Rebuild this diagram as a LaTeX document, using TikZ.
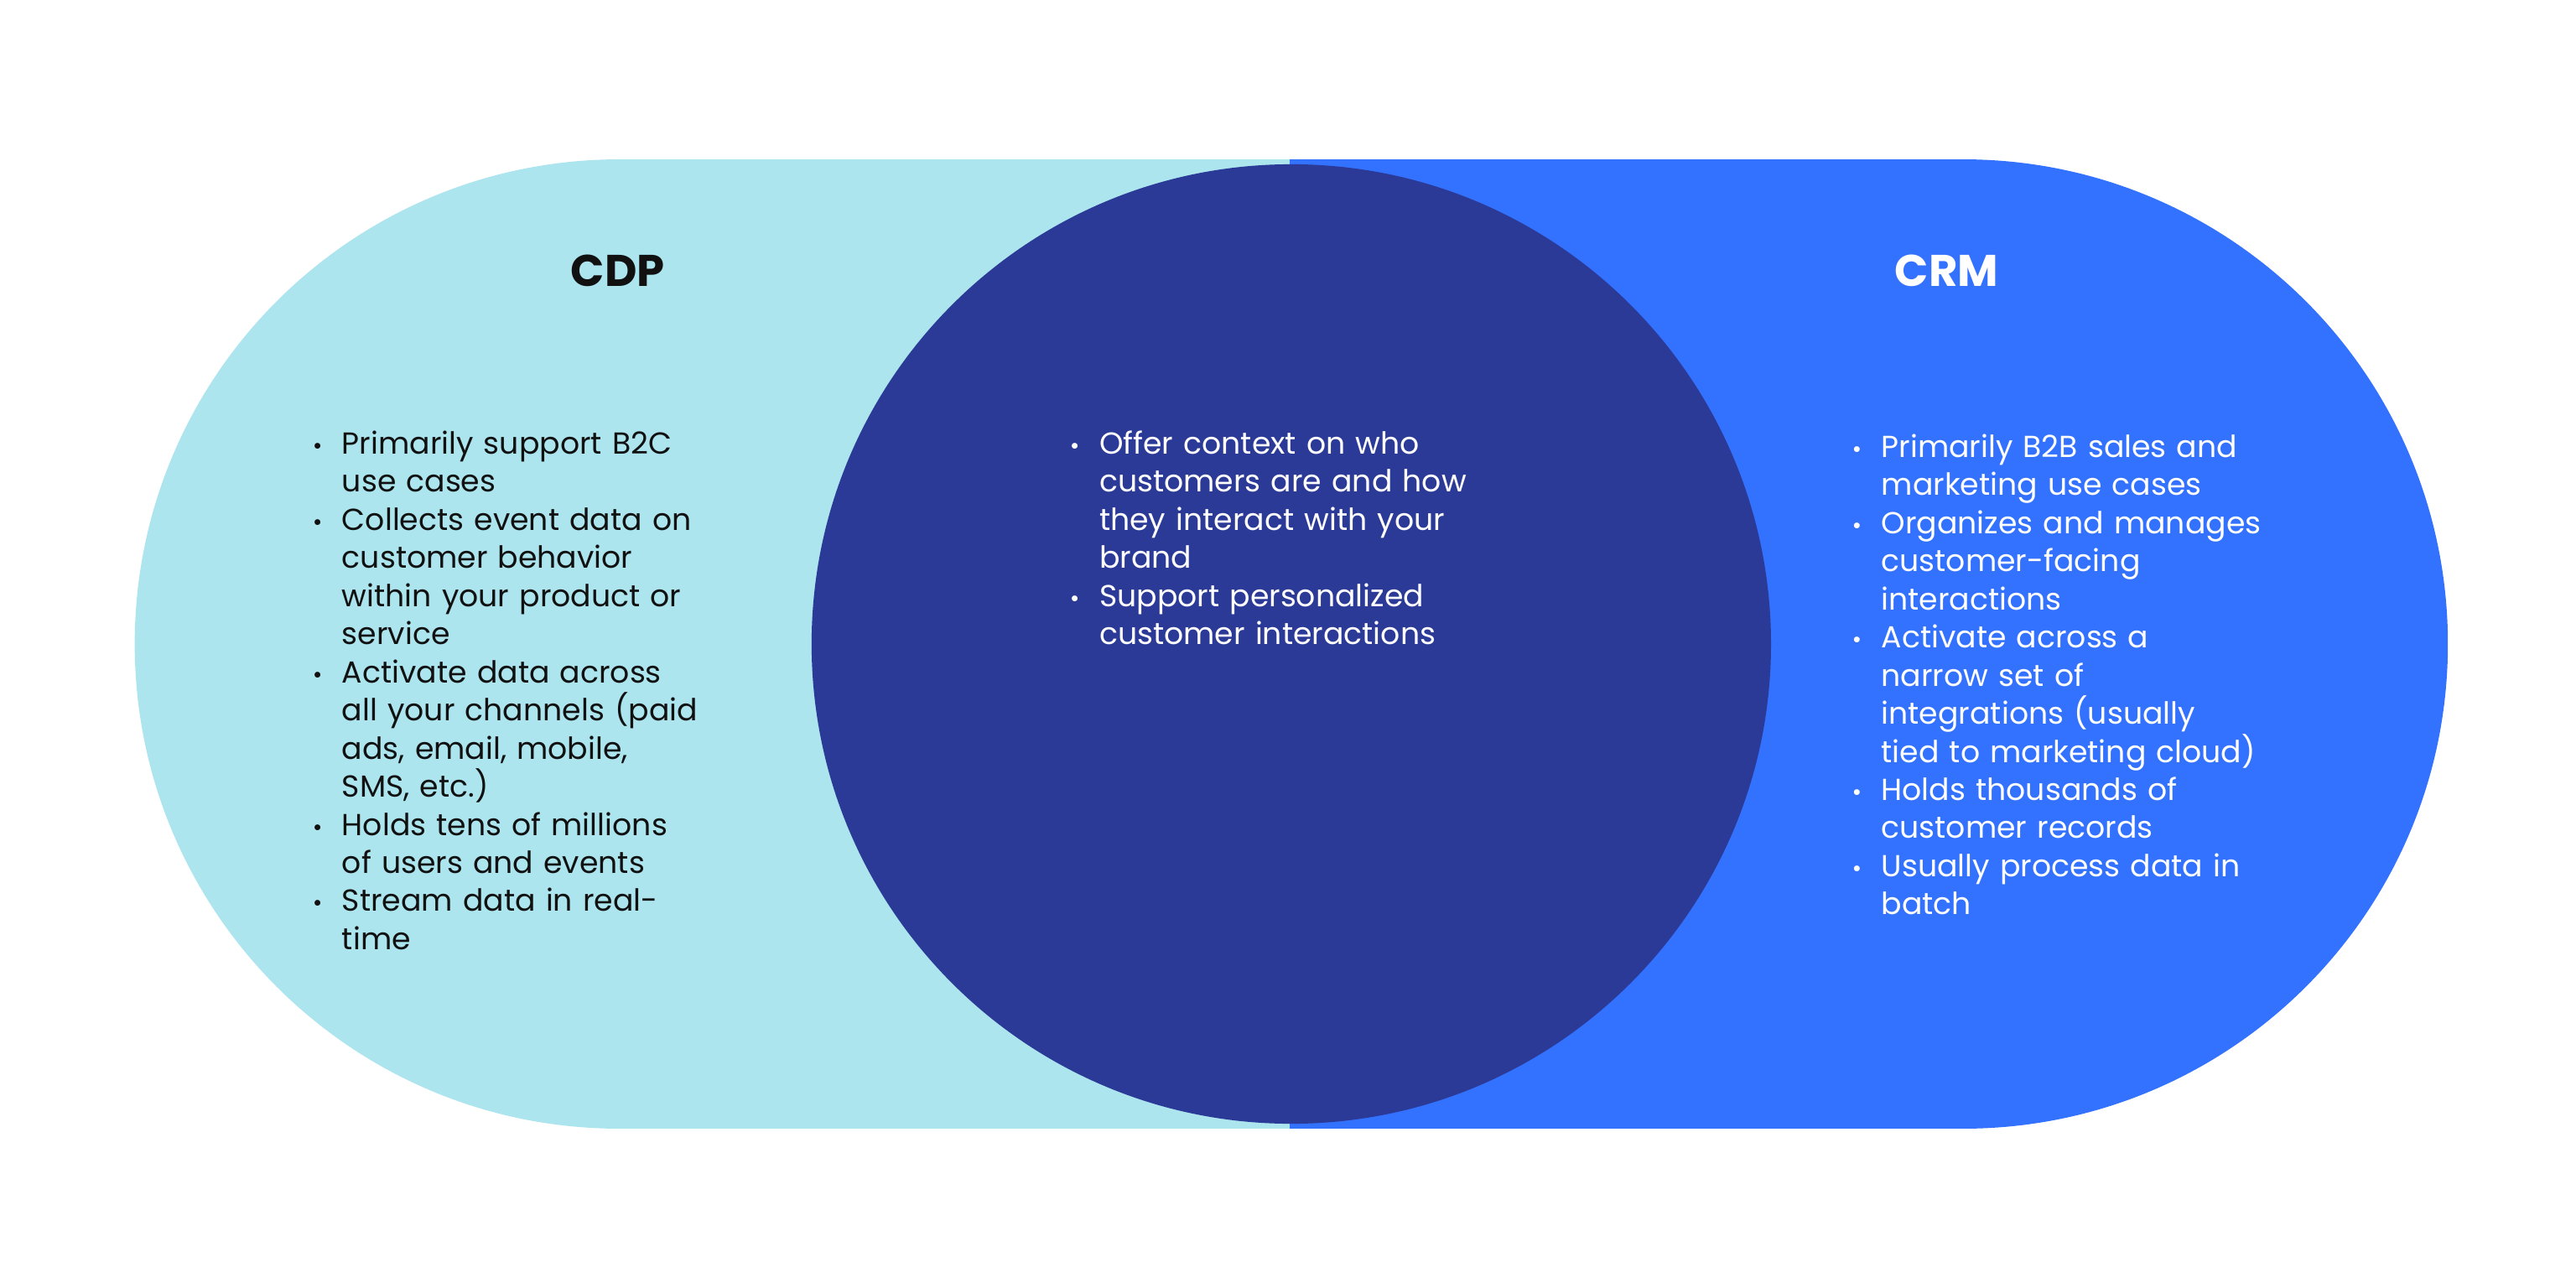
\documentclass[tikz,border=0pt]{standalone}
\usepackage{fontspec}
\setmainfont{Poppins}
\usepackage{enumitem}
\definecolor{cyanl}{HTML}{ADE5EF}
\definecolor{navy}{HTML}{2B3A96}
\definecolor{bblue}{HTML}{3371FF}
\definecolor{txt}{HTML}{111111}
\begin{document}
\begin{tikzpicture}[x=1pt,y=-1pt,
  body/.style={anchor=north west,inner sep=0pt,text width=300pt,align=left,font=\fontsize{18.5}{23.2}\selectfont},
  title/.style={font=\fontsize{27}{30}\selectfont\bfseries}]
\useasboundingbox (0,0) rectangle (1568,784);
\fill[white] (0,0) rectangle (1568,784);
\fill[cyanl] (377,392) circle (295);
\fill[cyanl] (377,97) rectangle (790,687);
\fill[bblue] (1195,392) circle (295);
\fill[bblue] (785,97) rectangle (1195,687);
\fill[navy] (786,392) circle (292);
\node[title,text=txt] (cdp) at (376,165) {CDP};
\node[title,text=white] (crm) at (1185,165) {CRM};
\newcommand{\blist}[1]{\begin{itemize}[leftmargin=23pt,labelsep=12pt,itemsep=0pt,topsep=0pt,parsep=0pt,label={\Large\textbullet}]#1\end{itemize}}
\node[body,text=txt] (lt) at (185,253) {\blist{
\item Primarily support B2C\\use cases
\item Collects event data on\\customer behavior\\within your product or\\service
\item Activate data across\\all your channels (paid\\ads, email, mobile,\\SMS, etc.)
\item Holds tens of millions\\of users and events
\item Stream data in real-\\time}};
\node[body,text=white] (mt) at (646,253) {\blist{
\item Offer context on who\\customers are and how\\they interact with your\\brand
\item Support personalized\\customer interactions}};
\node[body,text=white] (rt) at (1122,255) {\blist{
\item Primarily B2B sales and\\marketing use cases
\item Organizes and manages\\customer-facing\\interactions
\item Activate across a\\narrow set of\\integrations (usually\\tied to marketing cloud)
\item Holds thousands of\\customer records
\item Usually process data in\\batch}};
\end{tikzpicture}
\end{document}
